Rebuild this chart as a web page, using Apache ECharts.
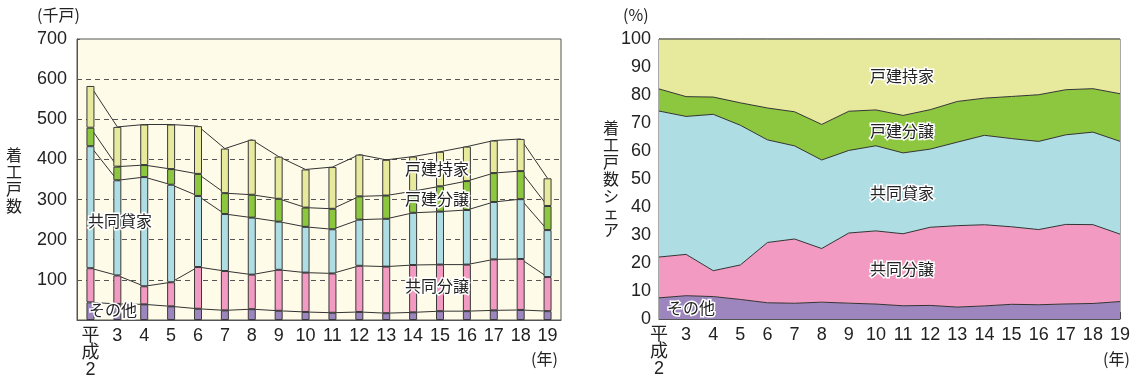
<!DOCTYPE html>
<html>
<head>
<meta charset="utf-8">
<script src="https://cdn.jsdelivr.net/npm/echarts@6/dist/echarts.min.js"></script>
<style>
  html, body { margin: 0; padding: 0; background: #fff; }
  #chart { width: 1138px; height: 381px; }
</style>
</head>
<body>
<div id="chart"></div>
<script>
// 年次（平成）
const yearLabels = ['平\n成\n2', '3', '4', '5', '6', '7', '8', '9', '10', '11', '12', '13', '14', '15', '16', '17', '18', '19'];

// 利用関係別 着工戸数（千戸）
const sonota   = [44, 40, 39, 34, 28, 24, 27, 23, 20, 18, 20, 17, 19, 22, 22, 24, 25, 22];
const kyoBunjo = [85, 71, 45, 60, 104, 98, 86, 102, 98, 98, 115, 116, 118, 116, 116, 127, 127, 85];
const kyoKashi = [304, 237, 272, 243, 177, 142, 142, 120, 114, 110, 115, 119, 130, 132, 136, 143, 149, 117];
const koBunjo  = [46, 34, 30, 39, 55, 52, 57, 57, 48, 51, 58, 58, 54, 63, 72, 72, 70, 60];
const koMochi  = [104, 99, 101, 111, 119, 111, 137, 105, 95, 104, 104, 89, 86, 86, 86, 81, 80, 69];

const leftTicks = [0, 100, 200, 300, 400, 500, 600, 700];
const rightTicks = [0, 10, 20, 30, 40, 50, 60, 70, 80, 90, 100];

const seriesDefs = [
  { name: 'その他',   data: sonota,   color: '#9D86BE' },
  { name: '共同分譲', data: kyoBunjo, color: '#F29AC1' },
  { name: '共同貸家', data: kyoKashi, color: '#AEDDE4' },
  { name: '戸建分譲', data: koBunjo,  color: '#8DC63F' },
  { name: '戸建持家', data: koMochi,  color: '#E7EA9C' }
];

// シェア（%）
const totals = yearLabels.map((_, i) => seriesDefs.reduce((s, d) => s + d.data[i], 0));
const shareOf = arr => arr.map((v, i) => v / totals[i] * 100);

const FONT = '"Liberation Sans", "Noto Sans CJK JP", sans-serif';
const JP = '"Noto Sans CJK JP", sans-serif';
const INK = '#333';

const series = [];
// 積み上げ棒
seriesDefs.forEach(d => {
  series.push({
    type: 'bar', name: d.name, stack: 'bar', xAxisIndex: 0, yAxisIndex: 0,
    data: d.data, barWidth: 8, z: 3,
    itemStyle: { color: d.color, borderColor: '#3a3a3a', borderWidth: 1 }
  });
});
// 棒の区切りを結ぶ線
seriesDefs.forEach(d => {
  series.push({
    type: 'line', name: d.name + '_link', stack: 'link', xAxisIndex: 0, yAxisIndex: 0,
    data: d.data, symbol: 'none', smooth: false, z: 2, silent: true,
    lineStyle: { color: INK, width: 1 }
  });
});
// シェアの積み上げ面
seriesDefs.forEach(d => {
  series.push({
    type: 'line', name: d.name + '_share', stack: 'share', xAxisIndex: 1, yAxisIndex: 1,
    data: shareOf(d.data), symbol: 'none', smooth: false, z: 2, silent: true,
    lineStyle: { color: INK, width: 1 },
    areaStyle: { color: d.color, opacity: 1 }
  });
});

const outlined = (text, x, y, size) => ({
  type: 'text', x, y, z: 100,
  style: {
    text, fill: '#222', font: `${size || 16}px ${JP}`,
    stroke: '#fff', lineWidth: 3
  }
});
const plain = (text, x, y, size, lh) => ({
  type: 'text', x, y, z: 100,
  style: { text, fill: '#222', font: `${size || 15}px ${JP}`, lineHeight: lh || 17 }
});

const chart = echarts.init(document.getElementById('chart'), null, { renderer: 'canvas' });
chart.setOption({
  animation: false,
  backgroundColor: '#fff',
  grid: [
    { left: 77, top: 39, width: 484, height: 281, show: true, backgroundColor: '#FEFBE8', borderColor: '#555', borderWidth: 1 },
    { left: 659, top: 39, width: 461, height: 280, show: true, backgroundColor: 'transparent', borderColor: '#555', borderWidth: 1 }
  ],
  xAxis: [
    {
      type: 'category', gridIndex: 0, data: yearLabels, boundaryGap: true,
      axisLine: { lineStyle: { color: '#555', width: 1 } },
      axisTick: { inside: true, length: 6, lineStyle: { color: '#555' } },
      axisLabel: { color: '#222', fontSize: 18, fontFamily: FONT, margin: 8, lineHeight: 17, interval: 0 }
    },
    {
      type: 'category', gridIndex: 1, data: yearLabels, boundaryGap: false,
      axisLine: { lineStyle: { color: '#555', width: 1 } },
      axisTick: { inside: true, length: 7, interval: 0, lineStyle: { color: '#444' } },
      axisLabel: { color: '#222', fontSize: 18, fontFamily: FONT, margin: 8, lineHeight: 17, interval: 0 }
    }
  ],
  yAxis: [
    {
      type: 'value', gridIndex: 0, min: leftTicks[0], max: leftTicks[leftTicks.length - 1], interval: 100,
      axisLine: { show: true, lineStyle: { color: '#555' } },
      axisTick: { show: true, inside: true, length: 3, lineStyle: { color: '#555' } },
      axisLabel: { color: '#222', fontSize: 18, fontFamily: FONT, margin: 10, formatter: v => (v === 0 ? '' : String(v)) },
      splitLine: { show: true, showMinLine: false, showMaxLine: false, lineStyle: { color: '#555', type: [5, 4], width: 1 } }
    },
    {
      type: 'value', gridIndex: 1, min: rightTicks[0], max: rightTicks[rightTicks.length - 1], interval: 10,
      axisLine: { show: true, lineStyle: { color: '#555' } },
      axisTick: { show: true, inside: true, length: 7, lineStyle: { color: '#555' } },
      axisLabel: { color: '#222', fontSize: 18, fontFamily: FONT, margin: 8 },
      splitLine: { show: false }
    }
  ],
  series,
  graphic: [
    plain('(千戸)', 37, 6, 16),
    plain('(%)', 623, 6, 16),
    plain('(年)', 531, 350, 16),
    plain('(年)', 1103, 350, 16),
    plain('着\n工\n戸\n数', 6, 146, 16, 17),
    plain('着\n工\n戸\n数\nシ\nェ\nア', 603, 119, 16, 17),
    outlined('共同貸家', 88, 213),
    outlined('戸建持家', 405, 161),
    outlined('戸建分譲', 405, 191),
    outlined('共同分譲', 405, 278),
    outlined('その他', 89, 302),
    outlined('戸建持家', 870, 68),
    outlined('戸建分譲', 870, 123),
    outlined('共同貸家', 870, 185),
    outlined('共同分譲', 870, 261),
    outlined('その他', 667, 300)
  ]
});
</script>
</body>
</html>
